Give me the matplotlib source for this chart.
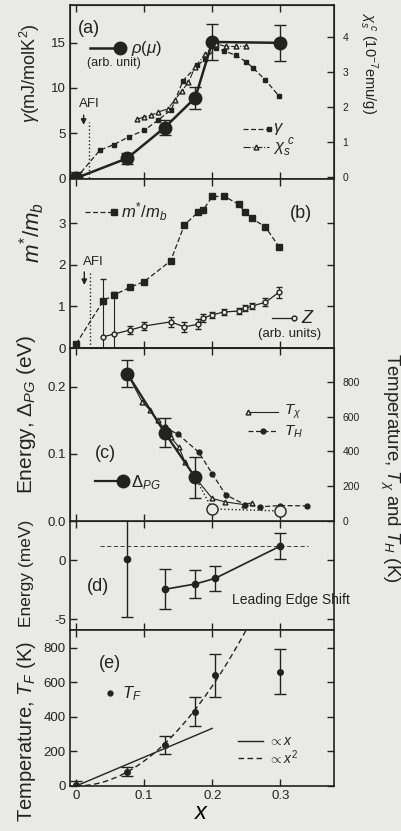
import numpy as np
import matplotlib
matplotlib.use("Agg")
import matplotlib.pyplot as plt

# %% data
# (a) rho(mu), gamma, chi_s^c
rho_x = [0, 0.075, 0.13, 0.175, 0.2, 0.3]
rho_y = [0, 2.2, 5.6, 8.9, 15.1, 15.0]
rho_err = [0.7, 0.6, 0.8, 1.2, 2.0, 2.0]

gamma_x = [0, 0.035, 0.055, 0.078, 0.10, 0.12, 0.14, 0.157, 0.178, 0.19, 0.205,
           0.218, 0.235, 0.25, 0.26, 0.278, 0.298]
gamma_y = [0, 3.1, 3.7, 4.6, 5.3, 6.4, 7.6, 10.8, 12.5, 13.2, 14.4,
           14.1, 13.6, 12.9, 12.2, 10.9, 9.1]

chi_x = [0.09, 0.10, 0.11, 0.12, 0.135, 0.145, 0.155, 0.165, 0.175, 0.19, 0.205,
         0.22, 0.235, 0.25]
chi_y = [1.65, 1.72, 1.76, 1.85, 1.95, 2.2, 2.45, 2.7, 3.15, 3.5, 3.8,
         3.72, 3.72, 3.73]

# (b) m*/m_b and Z
m_x = [0, 0.04, 0.056, 0.079, 0.10, 0.139, 0.159, 0.179, 0.187, 0.20, 0.218,
       0.239, 0.248, 0.258, 0.278, 0.298]
m_y = [0.1, 1.14, 1.28, 1.46, 1.6, 2.1, 2.96, 3.27, 3.33, 3.65, 3.65,
       3.46, 3.27, 3.12, 2.92, 2.44]
z_x = m_x[1:]
z_y = [0.27, 0.34, 0.43, 0.53, 0.63, 0.51, 0.57, 0.72, 0.8, 0.87, 0.89,
       0.96, 1.01, 1.1, 1.34]
z_err = [1.4, 1.0, 0.1, 0.1, 0.12, 0.12, 0.12, 0.1, 0.07, 0.07, 0.07,
         0.08, 0.08, 0.1, 0.13]

# (c) pseudogap energy and temperatures
pg_x = [0.075, 0.13, 0.175]
pg_y = [0.220, 0.132, 0.065]
pg_err = [0.02, 0.021, 0.031]
pg_open_x = [0.2, 0.3]
pg_open_y = [0.018, 0.015]

tchi_x = [0.075, 0.097, 0.109, 0.12, 0.139, 0.151, 0.16, 0.175, 0.2, 0.219, 0.246, 0.258]
tchi_y = [850, 685, 637, 579, 483, 425, 339, 250, 130, 110, 95, 105]

th_x = [0.13, 0.15, 0.18, 0.2, 0.22, 0.248, 0.27, 0.3, 0.34]
th_y = [540, 498, 397, 272, 150, 95, 82, 89, 87]

# (d) leading edge shift
d_x = [0.075, 0.13, 0.175, 0.204, 0.3]
d_y = [0.1, -2.47, -2.02, -1.55, 1.18]
d_err = [4.9, 1.7, 1.15, 1.07, 1.12]

# (e) T_F
tf_x = [0, 0.075, 0.13, 0.175, 0.204, 0.3]
tf_y = [5, 82, 237, 430, 640, 660]
tf_err = [25, 27, 52, 85, 124, 130]
lin_coef = 1665      # T_F ~ x
quad_coef = 14445    # T_F ~ x^2

# %% style
plt.rcParams['font.family'] = ['Liberation Sans', 'DejaVu Sans']
plt.rcParams['mathtext.fontset'] = 'custom'
plt.rcParams['mathtext.rm'] = 'Liberation Sans'
plt.rcParams['mathtext.it'] = 'Liberation Sans:italic'
plt.rcParams['font.size'] = 10
bg = '#e9e9e7'
ink = '#222222'
plt.rcParams['text.color'] = ink
plt.rcParams['axes.edgecolor'] = ink
plt.rcParams['xtick.color'] = ink
plt.rcParams['ytick.color'] = ink

W, H = 401, 831
fig = plt.figure(figsize=(W / 100, H / 100), dpi=100, facecolor=bg)

left, width = 0.1746, 0.6584
xlim = (-0.009, 0.379)


def make_ax(bottom, height):
    ax = fig.add_axes([left, bottom, width, height], facecolor=bg)
    ax.set_xlim(*xlim)
    ax.set_xticks([0, 0.1, 0.2, 0.3])
    ax.tick_params(direction='in', top=True, right=True, length=5, width=1,
                   labelsize=9.5, labelbottom=False, pad=3)
    for s in ax.spines.values():
        s.set_linewidth(1.2)
    return ax


def side_label(px, py, s, size, rot=90):
    # label placed at pixel position (from top-left) of the reference
    fig.text(px / W, 1 - py / H, s, fontsize=size, rotation=rot,
             ha='center', va='center')


dash = (0, (4, 2))

# %% (a)
axa = make_ax(0.7846, 0.2094)
axa.set_ylim(-0.1, 19.2)
axa.set_yticks([0, 5, 10, 15])
axa.errorbar(rho_x, rho_y, yerr=rho_err, color=ink, marker='o', ms=9, lw=1.8,
             capsize=4, elinewidth=1)
axa.plot(gamma_x, gamma_y, color=ink, ls=dash, lw=0.9, marker='s', ms=3.5)
axa.plot([0.019, 0.019], [0, 6.2], color=ink, ls=':', lw=1)
axa.annotate('', xy=(0.011, 5.6), xytext=(0.011, 7.3),
             arrowprops=dict(arrowstyle='-|>', color=ink, lw=1, mutation_scale=8))
axa.text(0.02, 7.6, 'AFI', fontsize=9.5, ha='center', va='bottom')
axa.text(0.002, 16.6, '(a)', fontsize=13, va='center')
axa.plot([0.02, 0.065], [14.4, 14.4], color=ink, lw=1.8, marker='o', ms=9,
         markevery=[1])
axa.text(0.081, 14.4, r'$\rho(\mu)$', fontsize=12, va='center')
axa.text(0.056, 12.8, '(arb. unit)', fontsize=9, va='center', ha='center')
axa.plot([0.245, 0.283], [5.5, 5.5], color=ink, ls=dash, lw=0.9, marker='s',
         ms=3.5, markevery=[1])
axa.plot([0.245, 0.264, 0.283], [3.5, 3.5, 3.5], color=ink, ls='-.', lw=0.8,
         marker='^', ms=3.5, markevery=[1], mfc=bg)
axa.text(0.29, 5.5, r'$\gamma$', fontsize=12, va='center')
axa.text(0.29, 3.4, r'$\chi_s^{\ c}$', fontsize=12, va='center')

axa2 = axa.twinx()
axa2.set_ylim(-0.05, 4.9)
axa2.set_yticks([0, 1, 2, 3, 4])
axa2.tick_params(direction='in', length=5, width=1, labelsize=7.5, pad=6)
axa2.plot(chi_x, chi_y, color=ink, ls='-.', lw=0.8, marker='^', ms=3.5, mfc=bg)

side_label(30, 73, r'$\gamma$(mJ/molK$^2$)', 13)
side_label(368, 63, r'$\chi_s^{\ c}$ (10$^{-7}$emu/g)', 10.5, rot=-90)

# %% (b)
axb = make_ax(0.5812, 0.2034)
axb.set_ylim(0, 4.07)
axb.set_yticks([0, 1, 2, 3])
axb.plot(m_x, m_y, color=ink, ls=dash, lw=0.9, marker='s', ms=4)
axb.errorbar(z_x, z_y, yerr=z_err, color=ink, marker='o', ms=3.5, mfc=bg, lw=0.9,
             capsize=2.5, elinewidth=0.8)
axb.plot([0.021, 0.021], [0, 1.8], color=ink, ls=':', lw=1)
axb.annotate('', xy=(0.012, 1.45), xytext=(0.012, 1.9),
             arrowprops=dict(arrowstyle='-|>', color=ink, lw=1, mutation_scale=8))
axb.text(0.025, 1.93, 'AFI', fontsize=9.5, ha='center', va='bottom')
axb.plot([0.013, 0.055], [3.28, 3.28], color=ink, ls=dash, lw=0.9, marker='s',
         ms=4, markevery=[1])
axb.text(0.066, 3.28, r'$m^{*}/m_b$', fontsize=12, va='center')
axb.text(0.33, 3.25, '(b)', fontsize=13, va='center', ha='center')
axb.plot([0.288, 0.32], [0.72, 0.72], color=ink, lw=0.9, marker='o', ms=3.5,
         mfc=bg, markevery=[1])
axb.text(0.33, 0.72, r'$Z$', fontsize=13, va='center')
axb.text(0.313, 0.33, '(arb. units)', fontsize=9.5, va='center', ha='center')
side_label(32, 232, r'$m^{*}/m_b$', 16)

# %% (c)
axc = make_ax(0.3730, 0.2082)
axc.set_ylim(0, 0.258)
axc.set_yticks([0.0, 0.1, 0.2])
axc.set_yticklabels(['0.0', '0.1', '0.2'])
axc2 = axc.twinx()
axc2.set_ylim(0, 995)
axc2.set_yticks([0, 200, 400, 600, 800])
axc2.tick_params(direction='in', length=5, width=1, labelsize=7.5, pad=6)
axc2.plot(tchi_x, tchi_y, color=ink, lw=0.8, marker='^', ms=3.5, mfc=bg)
axc2.plot(th_x, th_y, color=ink, ls=dash, lw=0.9, marker='o', ms=3.5)
axc.errorbar(pg_x, pg_y, yerr=pg_err, color=ink, marker='o', ms=9, lw=1.6,
             capsize=4, elinewidth=1, zorder=5)
axc.plot([pg_x[-1]] + pg_open_x, [pg_y[-1]] + pg_open_y, color=ink, ls=':', lw=1)
axc.plot(pg_open_x, pg_open_y, ls='none', marker='o', ms=8, mfc=bg, mec=ink, zorder=5)
axc.patch.set_visible(False)
axc2.patch.set_visible(True)
axc2.patch.set_facecolor(bg)
axc.set_zorder(2)
axc2.set_zorder(1)
axc2.plot([0.253, 0.296], [625, 625], color=ink, lw=0.8, marker='^', ms=3.5,
          mfc=bg, markevery=[0])
axc2.plot([0.253, 0.275, 0.296], [518, 518, 518], color=ink, ls=dash, lw=0.9,
          marker='o', ms=3.5, markevery=[1])
axc2.text(0.305, 630, r'$T_\chi$', fontsize=11, va='center')
axc2.text(0.305, 515, r'$T_H$', fontsize=11, va='center')
axc.plot([0.028, 0.069], [0.059, 0.059], color=ink, lw=1.6, marker='o', ms=9,
         markevery=[1])
axc.text(0.08, 0.057, r'$\Delta_{PG}$', fontsize=12, va='center')
axc.text(0.027, 0.101, '(c)', fontsize=13, va='center')
side_label(27, 414, r'Energy, $\Delta_{PG}$ (eV)', 15)
side_label(390, 468, r'Temperature, $T_\chi$ and $T_H$ (K)', 13.4, rot=-90)

# %% (d)
axd = make_ax(0.2419, 0.1312)
axd.set_ylim(-5.9, 3.3)
axd.set_yticks([-5, 0])
axd.set_yticklabels(['-5', '0'])
axd.errorbar(d_x[:1], d_y[:1], yerr=d_err[:1], color=ink, marker='o', ms=4.5,
             ls='none', capsize=4, elinewidth=1)
axd.errorbar(d_x[1:], d_y[1:], yerr=d_err[1:], color=ink, marker='o', ms=4.5,
             lw=1.2, capsize=4, elinewidth=1)
axd.plot([0.035, 0.341], [d_y[-1], d_y[-1]], color=ink, ls=(0, (5, 3)), lw=0.6)
axd.text(0.229, -3.37, 'Leading Edge Shift', fontsize=10, va='center')
axd.text(0.016, -2.25, '(d)', fontsize=13, va='center')
side_label(27, 573, 'Energy (meV)', 12.5)

# %% (e)
axe = make_ax(0.0542, 0.1877)
axe.set_ylim(0, 902)
axe.set_yticks([0, 200, 400, 600, 800])
axe.tick_params(labelbottom=True)
axe.set_xticklabels(['0', '0.1', '0.2', '0.3'])
xs = np.linspace(0, 0.2, 50)
axe.plot(xs, lin_coef * xs, color=ink, lw=1)
xq = np.linspace(0, 0.25, 80)
axe.plot(xq, quad_coef * xq ** 2, color=ink, ls=(0, (4, 2.5)), lw=1)
axe.errorbar(tf_x, tf_y, yerr=tf_err, color=ink, marker='o', ms=4, ls='none',
             capsize=4, elinewidth=1)
axe.plot([0.05], [536], color=ink, marker='o', ms=3.5)
axe.text(0.067, 536, r'$T_F$', fontsize=12, va='center')
axe.plot([0.238, 0.275], [262, 262], color=ink, lw=1)
axe.plot([0.238, 0.275], [160, 160], color=ink, ls=(0, (4, 2.5)), lw=1)
axe.text(0.282, 262, r'$\propto x$', fontsize=10, va='center')
axe.text(0.282, 165, r'$\propto x^2$', fontsize=10, va='center')
axe.text(0.033, 711, '(e)', fontsize=13, va='center')
side_label(27, 732, r'Temperature, $T_F$ (K)', 14.5)
axe.set_xlabel(r'$x$', fontsize=17, labelpad=0)

fig.savefig('out.png', dpi=100, facecolor=bg)
